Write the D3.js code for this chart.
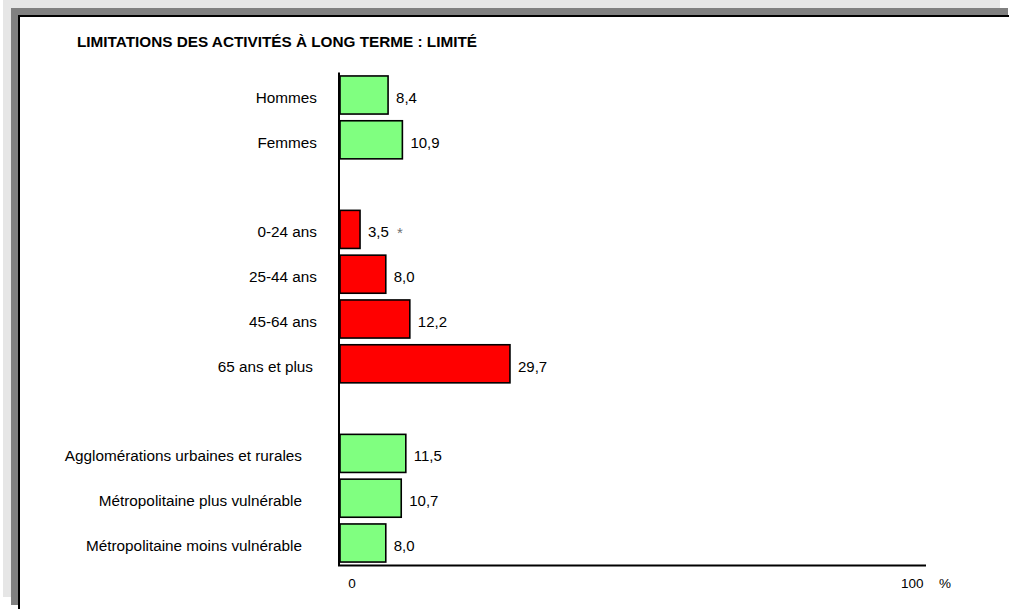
<!DOCTYPE html>
<html>
<head>
<meta charset="utf-8">
<script src="https://cdn.jsdelivr.net/npm/d3@7"></script>
<style>
  body { margin: 0; background: #fff; }
  text { font-family: "Liberation Sans", Arial, sans-serif; fill: #000; }
</style>
</head>
<body>
<svg id="chart" width="1009" height="609"></svg>
<script>
// categories, empty string = gap between groups
const categories = ["Hommes", "Femmes", "", "0-24 ans", "25-44 ans", "45-64 ans", "65 ans et plus", "",
  "Agglomérations urbaines et rurales", "Métropolitaine plus vulnérable", "Métropolitaine moins vulnérable"];
const values = [8.4, 10.9, null, 3.5, 8.0, 12.2, 29.7, null, 11.5, 10.7, 8.0];
const groups = [0, 0, null, 1, 1, 1, 1, null, 2, 2, 2];
const notes = ["", "", "", "*", "", "", "", "", "", "", ""];
const groupColors = ["#80ff80", "#ff0000", "#80ff80"];
const tickValues = [0, 100];
const title = "LIMITATIONS DES ACTIVITÉS À LONG TERME : LIMITÉ";

const fmt = v => v.toFixed(1).replace(".", ",");

const svg = d3.select("#chart");

// frame: light background, grey shadow, white panel
svg.append("rect").attr("x", 0).attr("y", 0).attr("width", 1000).attr("height", 597).attr("fill", "#e6e6e6");
svg.append("rect").attr("x", 0).attr("y", 0).attr("width", 3).attr("height", 609).attr("fill", "#fff");
svg.append("rect").attr("x", 11).attr("y", 8).attr("width", 997).attr("height", 597).attr("fill", "#808080");
svg.append("rect").attr("x", 19).attr("y", 16).attr("width", 1000).attr("height", 600)
    .attr("fill", "#fff").attr("stroke", "#000").attr("stroke-width", 2);

svg.append("text")
    .attr("x", 77).attr("y", 47)
    .style("font-size", "15.3px").style("font-weight", "bold")
    .text(title);

const x = d3.scaleLinear().domain([0, 102.4]).range([340, 926]);
const y = d3.scaleBand().domain(d3.range(categories.length)).range([72.6, 565.4])
    .paddingInner(0.15).paddingOuter(0.075);

const rows = categories.map((c, i) => ({ i, label: c, value: values[i], group: groups[i], note: notes[i] }))
    .filter(d => d.value !== null);

// category labels
const labelEnd = [317, 317, 302];
svg.append("g").selectAll("text")
    .data(rows)
    .join("text")
    .attr("x", d => d.label === "65 ans et plus" ? 313 : labelEnd[d.group])
    .attr("y", d => y(d.i) + y.bandwidth() / 2 + 8)
    .attr("text-anchor", "end")
    .style("font-size", "15.3px")
    .text(d => d.label);

// bars
svg.append("g").selectAll("rect")
    .data(rows)
    .join("rect")
    .attr("x", x(0))
    .attr("y", d => y(d.i))
    .attr("width", d => x(d.value) - x(0))
    .attr("height", y.bandwidth())
    .attr("fill", d => groupColors[d.group])
    .attr("stroke", "#000")
    .attr("stroke-width", 1.6);

// value labels
const vals = svg.append("g").selectAll("text")
    .data(rows)
    .join("text")
    .attr("x", d => x(d.value) + 8)
    .attr("y", d => y(d.i) + y.bandwidth() / 2 + 8)
    .style("font-size", "15px")
    .text(d => fmt(d.value));
vals.filter(d => d.note)
    .append("tspan")
    .attr("dx", 8)
    .attr("dy", 1)
    .style("font-size", "15px")
    .style("fill", "#707070")
    .text(d => d.note);

// axes
svg.append("line")
    .attr("x1", x(0) - 1).attr("x2", x(0) - 1)
    .attr("y1", y.range()[0]).attr("y2", y.range()[1])
    .attr("stroke", "#000").attr("stroke-width", 2);
svg.append("line")
    .attr("x1", x(0) - 2).attr("x2", x.range()[1])
    .attr("y1", y.range()[1]).attr("y2", y.range()[1])
    .attr("stroke", "#000").attr("stroke-width", 2);

svg.append("g").selectAll("text")
    .data(tickValues)
    .join("text")
    .attr("x", d => x(d) + (d === 0 ? 12 : 0))
    .attr("y", 588)
    .attr("text-anchor", "middle")
    .style("font-size", "13.5px")
    .text(d => d);

svg.append("text")
    .attr("x", 945).attr("y", 588)
    .attr("text-anchor", "middle")
    .style("font-size", "13.5px")
    .text("%");
</script>
</body>
</html>
